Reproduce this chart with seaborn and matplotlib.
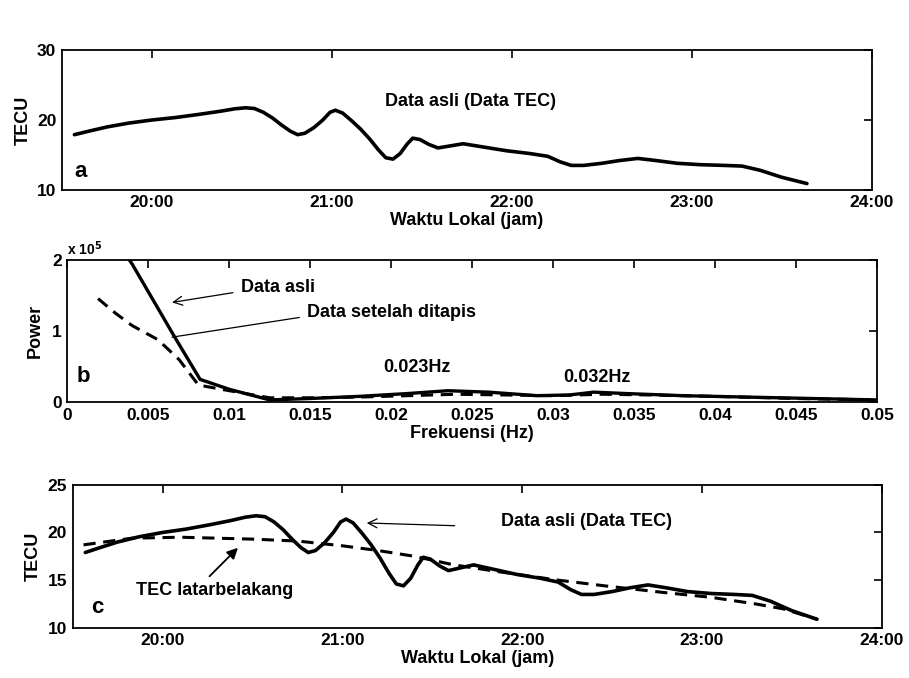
import matplotlib
matplotlib.use("Agg")
import matplotlib.pyplot as plt
from matplotlib.ticker import ScalarFormatter
import seaborn as sns
import pandas as pd

# ---------------- data ----------------
# Panel a / c : TEC time series (hours, local time)
tec_time = [19.57, 19.65, 19.75, 19.87, 20.00, 20.13, 20.26, 20.38, 20.46, 20.52,
            20.57, 20.62, 20.67, 20.72, 20.77, 20.81, 20.85, 20.90, 20.95, 20.99,
            21.02, 21.06, 21.11, 21.16, 21.21, 21.26, 21.30, 21.34, 21.38, 21.42,
            21.45, 21.49, 21.54, 21.59, 21.66, 21.73, 21.85, 21.97, 22.10, 22.20,
            22.27, 22.33, 22.40, 22.50, 22.60, 22.70, 22.80, 22.92, 23.05, 23.18,
            23.28, 23.38, 23.50, 23.64]
tec_asli = [17.9, 18.4, 19.0, 19.55, 20.0, 20.35, 20.8, 21.25, 21.6, 21.75,
            21.65, 21.1, 20.3, 19.3, 18.4, 17.9, 18.1, 18.9, 20.0, 21.1,
            21.4, 21.0, 19.9, 18.7, 17.3, 15.7, 14.6, 14.4, 15.2, 16.6,
            17.4, 17.2, 16.5, 16.0, 16.3, 16.6, 16.1, 15.6, 15.2, 14.8,
            14.0, 13.5, 13.5, 13.8, 14.2, 14.5, 14.2, 13.8, 13.6, 13.5,
            13.4, 12.8, 11.8, 10.9]

bg_time = [19.56, 19.83, 20.10, 20.50, 20.75, 21.00, 21.20, 21.40, 21.62, 21.90,
           22.20, 22.46, 22.79, 23.05, 23.30, 23.45, 23.64]
tec_bg = [18.7, 19.4, 19.5, 19.3, 19.1, 18.6, 18.1, 17.5, 16.6, 15.8,
          15.0, 14.4, 13.7, 13.2, 12.5, 12.0, 10.9]

# Panel b : power spectrum
freq_asli = [0.0034, 0.0040, 0.0066, 0.0082, 0.0100, 0.0125, 0.0150, 0.0180, 0.0210, 0.0235,
             0.0260, 0.0290, 0.0310, 0.0325, 0.0345, 0.0380, 0.0420, 0.0460, 0.0500]
power_asli = [2.15e5, 1.95e5, 0.93e5, 0.32e5, 0.18e5, 0.03e5, 0.05e5, 0.08e5, 0.12e5, 0.16e5,
              0.14e5, 0.09e5, 0.10e5, 0.14e5, 0.12e5, 0.09e5, 0.07e5, 0.05e5, 0.03e5]
freq_tapis = [0.0019, 0.0030, 0.0040, 0.0056, 0.0069, 0.0081, 0.0100, 0.0125, 0.0150, 0.0180,
              0.0210, 0.0240, 0.0270, 0.0300, 0.0330, 0.0360, 0.0400, 0.0450, 0.0500]
power_tapis = [1.46e5, 1.25e5, 1.08e5, 0.88e5, 0.60e5, 0.24e5, 0.16e5, 0.06e5, 0.06e5, 0.07e5,
               0.09e5, 0.11e5, 0.10e5, 0.09e5, 0.11e5, 0.10e5, 0.08e5, 0.05e5, 0.03e5]

time_ticks = [20, 21, 22, 23, 24]
time_labels = ["20:00", "21:00", "22:00", "23:00", "24:00"]
freq_ticks = [0, 0.005, 0.01, 0.015, 0.02, 0.025, 0.03, 0.035, 0.04, 0.045, 0.05]
freq_labels = ["0", "0.005", "0.01", "0.015", "0.02", "0.025", "0.03", "0.035",
               "0.04", "0.045", "0.05"]
power_ticks = [0, 1e5, 2e5]
power_labels = ["0", "1", "2"]

# ---------------- style ----------------
sns.set_theme(style="white")
plt.rcParams["font.family"] = ["Liberation Sans", "DejaVu Sans"]
plt.rcParams["font.weight"] = "bold"
plt.rcParams["axes.labelweight"] = "bold"
plt.rcParams["axes.edgecolor"] = "black"
plt.rcParams["axes.linewidth"] = 1.3
plt.rcParams["text.color"] = "black"
plt.rcParams["axes.labelcolor"] = "black"
plt.rcParams["xtick.color"] = "black"
plt.rcParams["ytick.color"] = "black"
plt.rcParams["mathtext.default"] = "bf"

FS_TICK = 12.5
FS_TXT = 13

fig = plt.figure(figsize=(9.09, 6.78), dpi=100)
ax_a = fig.add_axes([0.068, 0.720, 0.891, 0.206])
ax_b = fig.add_axes([0.074, 0.407, 0.891, 0.209])
ax_c = fig.add_axes([0.080, 0.074, 0.890, 0.211])


def style_axes(ax):
    ax.tick_params(direction="in", top=True, right=True, length=6, width=1.2,
                   labelsize=FS_TICK, pad=4, colors="black")
    for lab in ax.get_xticklabels() + ax.get_yticklabels():
        lab.set_fontweight("bold")
    for s in ax.spines.values():
        s.set_visible(True)
        s.set_color("black")
        s.set_linewidth(1.3)


# ---------------- panel a ----------------
df_a = pd.DataFrame({"t": tec_time, "tec": tec_asli})
sns.lineplot(data=df_a, x="t", y="tec", ax=ax_a, color="black", linewidth=2.6)
ax_a.set_xlim(19.5, 24)
ax_a.set_ylim(10, 30)
ax_a.set_xticks(time_ticks)
ax_a.set_xticklabels(time_labels)
ax_a.set_yticks([10, 20, 30])
ax_a.set_xlabel("Waktu Lokal (jam)", fontsize=FS_TXT, labelpad=1)
ax_a.set_ylabel("TECU", fontsize=FS_TXT, labelpad=4)
ax_a.text(21.77, 22.6, "Data asli (Data TEC)", fontsize=FS_TXT, ha="center", va="center")
ax_a.text(0.016, 0.13, "a", transform=ax_a.transAxes, fontsize=16, ha="left", va="center")
style_axes(ax_a)

# ---------------- panel b ----------------
df_b1 = pd.DataFrame({"f": freq_asli, "p": power_asli})
df_b2 = pd.DataFrame({"f": freq_tapis, "p": power_tapis})
sns.lineplot(data=df_b1, x="f", y="p", ax=ax_b, color="black", linewidth=2.4)
sns.lineplot(data=df_b2, x="f", y="p", ax=ax_b, color="black", linewidth=2.2,
             linestyle=(0, (4, 2.5)))
ax_b.set_xlim(0, 0.05)
ax_b.set_ylim(0, 2e5)
ax_b.set_xticks(freq_ticks)
ax_b.set_xticklabels(freq_labels)
ax_b.set_yticks(power_ticks)
ax_b.set_yticklabels(power_labels)
ax_b.text(0.0, 1.015, "x 10$^{5}$", transform=ax_b.transAxes, fontsize=10,
          ha="left", va="bottom")
ax_b.set_xlabel("Frekuensi (Hz)", fontsize=FS_TXT, labelpad=2)
ax_b.set_ylabel("Power", fontsize=FS_TXT, labelpad=6)
ax_b.text(0.0107, 1.62e5, "Data asli", fontsize=FS_TXT, ha="left", va="center")
ax_b.annotate("", xy=(0.0063, 1.40e5), xytext=(0.0104, 1.55e5),
              arrowprops=dict(arrowstyle="->", color="black", lw=0.9,
                              mutation_scale=16))
ax_b.text(0.0148, 1.27e5, "Data setelah ditapis", fontsize=FS_TXT, ha="left", va="center")
ax_b.annotate("", xy=(0.0063, 0.91e5), xytext=(0.0145, 1.20e5),
              arrowprops=dict(arrowstyle="-", color="black", lw=0.9))
ax_b.text(0.0216, 0.49e5, "0.023Hz", fontsize=FS_TXT, ha="center", va="center")
ax_b.text(0.0327, 0.35e5, "0.032Hz", fontsize=FS_TXT, ha="center", va="center")
ax_b.text(0.012, 0.18, "b", transform=ax_b.transAxes, fontsize=16, ha="left", va="center")
style_axes(ax_b)

# ---------------- panel c ----------------
df_c1 = pd.DataFrame({"t": tec_time, "tec": tec_asli})
df_c2 = pd.DataFrame({"t": bg_time, "tec": tec_bg})
sns.lineplot(data=df_c1, x="t", y="tec", ax=ax_c, color="black", linewidth=2.6)
sns.lineplot(data=df_c2, x="t", y="tec", ax=ax_c, color="black", linewidth=2.2,
             linestyle=(0, (4, 2.5)))
ax_c.set_xlim(19.5, 24)
ax_c.set_ylim(10, 25)
ax_c.set_xticks(time_ticks)
ax_c.set_xticklabels(time_labels)
ax_c.set_yticks([10, 15, 20, 25])
ax_c.set_xlabel("Waktu Lokal (jam)", fontsize=FS_TXT, labelpad=1)
ax_c.set_ylabel("TECU", fontsize=FS_TXT, labelpad=4)
ax_c.text(21.88, 21.2, "Data asli (Data TEC)", fontsize=FS_TXT, ha="left", va="center")
ax_c.annotate("", xy=(21.12, 21.0), xytext=(21.64, 20.7),
              arrowprops=dict(arrowstyle="->", color="black", lw=0.9,
                              mutation_scale=16))
ax_c.text(20.29, 13.9, "TEC latarbelakang", fontsize=FS_TXT, ha="center", va="center")
ax_c.annotate("", xy=(20.43, 18.6), xytext=(20.25, 15.2),
              arrowprops=dict(arrowstyle="-|>", color="black", lw=1.3,
                              mutation_scale=16))
ax_c.text(0.023, 0.14, "c", transform=ax_c.transAxes, fontsize=16, ha="left", va="center")
style_axes(ax_c)

fig.savefig("out.png", dpi=100, facecolor="white")
